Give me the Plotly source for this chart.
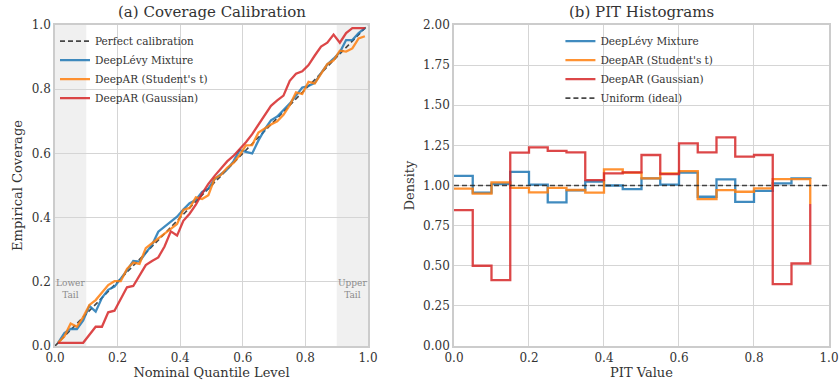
import plotly.graph_objects as go

# ---------------- data ----------------
quantile_levels = [round(0.01 + 0.02 * i, 2) for i in range(50)]

cov_levy = [0.01, 0.04, 0.053, 0.053, 0.08, 0.125, 0.107, 0.15, 0.175, 0.185,
            0.21, 0.235, 0.265, 0.263, 0.29, 0.315, 0.356, 0.372, 0.385, 0.403,
            0.425, 0.445, 0.455, 0.48, 0.49, 0.52, 0.535, 0.55, 0.575, 0.61,
            0.605, 0.60, 0.64, 0.675, 0.703, 0.715, 0.735, 0.755, 0.78, 0.805,
            0.81, 0.82, 0.85, 0.877, 0.895, 0.915, 0.953, 0.953, 0.975, 0.99]

cov_student = [0.01, 0.03, 0.07, 0.06, 0.09, 0.128, 0.143, 0.168, 0.19, 0.202,
               0.202, 0.24, 0.26, 0.256, 0.305, 0.32, 0.334, 0.35, 0.365, 0.38,
               0.424, 0.43, 0.463, 0.458, 0.47, 0.522, 0.533, 0.555, 0.57, 0.595,
               0.625, 0.626, 0.665, 0.678, 0.69, 0.70, 0.72, 0.75, 0.79, 0.785,
               0.823, 0.818, 0.85, 0.878, 0.89, 0.92, 0.917, 0.927, 0.958, 0.965]

cov_gauss = [0.01, 0.01, 0.01, 0.01, 0.01, 0.035, 0.06, 0.06, 0.105, 0.11,
             0.145, 0.183, 0.187, 0.22, 0.252, 0.265, 0.276, 0.31, 0.357, 0.344,
             0.39, 0.412, 0.44, 0.475, 0.505, 0.53, 0.553, 0.575, 0.592, 0.613,
             0.635, 0.66, 0.69, 0.722, 0.748, 0.765, 0.78, 0.826, 0.848, 0.856,
             0.875, 0.905, 0.933, 0.945, 0.97, 0.945, 0.975, 0.99, 0.99, 0.99]

pit_edges = [round(0.05 * i, 2) for i in range(20)]

pit_levy = [1.06, 0.955, 1.01, 1.085, 1.005, 0.895, 0.97, 1.025, 1.0, 0.977,
            1.044, 1.006, 1.08, 0.93, 1.038, 0.898, 0.967, 1.013, 1.044, 1.04]

pit_student = [0.98, 0.95, 1.02, 0.985, 0.957, 0.985, 0.972, 0.955, 1.10, 1.08,
               1.044, 1.075, 1.09, 0.915, 0.971, 0.961, 0.982, 1.04, 1.04, 0.885]

pit_gauss = [0.847, 0.50, 0.41, 1.205, 1.237, 1.216, 1.206, 1.034, 1.075, 1.082,
             1.19, 1.071, 1.263, 1.206, 1.30, 1.18, 1.19, 0.385, 0.514, 0.884]

calib_line = [0.0, 1.0]
uniform_x = [0.0, 1.0]
uniform_y = [1.0, 1.0]

x_ticks = [0.0, 0.2, 0.4, 0.6, 0.8, 1.0]
cov_ticks = [0.0, 0.2, 0.4, 0.6, 0.8, 1.0]
pit_y_ticks = [0.0, 0.25, 0.5, 0.75, 1.0, 1.25, 1.5, 1.75, 2.0]

names = ["DeepLévy Mixture", "DeepAR (Student's t)", "DeepAR (Gaussian)"]

# ---------------- style ----------------
FONT = "DejaVu Serif"
C_BLUE = "rgba(31,119,180,0.85)"
C_ORANGE = "rgba(255,127,14,0.85)"
C_RED = "rgba(214,39,40,0.85)"
C_DASH = "rgba(40,40,40,0.85)"
LW = 2.3
GRID = "#d5d5d5"
SPINE = "#cccccc"
TXT = "#333333"

fig = go.Figure()

# ---- left panel ----
fig.add_trace(go.Scatter(x=calib_line, y=calib_line, mode="lines", name="Perfect calibration",
                         line=dict(color=C_DASH, width=1.6, dash="5px,3px"),
                         xaxis="x", yaxis="y", legend="legend"))
for ys, c, n in [(cov_levy, C_BLUE, names[0]), (cov_student, C_ORANGE, names[1]),
                 (cov_gauss, C_RED, names[2])]:
    fig.add_trace(go.Scatter(x=quantile_levels, y=ys, mode="lines", name=n,
                             line=dict(color=c, width=LW),
                             xaxis="x", yaxis="y", legend="legend"))

# ---- right panel ----
for ys, c, n in [(pit_levy, C_BLUE, names[0]), (pit_student, C_ORANGE, names[1]),
                 (pit_gauss, C_RED, names[2])]:
    fig.add_trace(go.Scatter(x=pit_edges, y=ys, mode="lines", name=n,
                             line=dict(color=c, width=LW, shape="hv"),
                             xaxis="x2", yaxis="y2", legend="legend2"))
fig.add_trace(go.Scatter(x=uniform_x, y=uniform_y, mode="lines", name="Uniform (ideal)",
                         line=dict(color=C_DASH, width=1.6, dash="5px,3px"),
                         xaxis="x2", yaxis="y2", legend="legend2"))

# tail shading
for x0, x1 in [(0.0, 0.1), (0.9, 1.0)]:
    fig.add_shape(type="rect", xref="x", yref="y", x0=x0, x1=x1, y0=0, y1=1,
                  fillcolor="#f0f0f0", line=dict(width=0), layer="below")

axis_common = dict(showgrid=True, gridcolor=GRID, gridwidth=1, showline=True,
                   linecolor=SPINE, linewidth=1.6, mirror=True, zeroline=False,
                   automargin=False, ticks="",
                   tickfont=dict(family=FONT, size=12, color=TXT),
                   title_font=dict(family=FONT, size=13, color=TXT))

fig.update_layout(
    template="none",
    width=839, height=385,
    margin=dict(l=55, r=10, t=25, b=39),
    paper_bgcolor="white", plot_bgcolor="white",
    font=dict(family=FONT, color=TXT),
    xaxis=dict(domain=[0.0, 0.4044], range=[0, 1], tickvals=x_ticks,
               ticktext=[f"{v:.1f}" for v in x_ticks],
               title=dict(text="Nominal Quantile Level", standoff=3), anchor="y", **axis_common),
    yaxis=dict(domain=[0, 1], range=[0, 1], tickvals=cov_ticks,
               ticktext=[f"{v:.1f}" for v in cov_ticks],
               title=dict(text="Empirical Coverage", standoff=6), anchor="x", **axis_common),
    xaxis2=dict(domain=[0.5155, 1.0], range=[0, 1], tickvals=x_ticks,
                ticktext=[f"{v:.1f}" for v in x_ticks],
                title=dict(text="PIT Value", standoff=3), anchor="y2", **axis_common),
    yaxis2=dict(domain=[0, 1], range=[0, 2], tickvals=pit_y_ticks,
                ticktext=[f"{v:.2f}" for v in pit_y_ticks],
                title=dict(text="Density", standoff=6), anchor="x2", **axis_common),
    legend=dict(x=0.0, y=0.995, xanchor="left", yanchor="top", bgcolor="rgba(0,0,0,0)",
                font=dict(family=FONT, size=10.5, color=TXT), tracegroupgap=0),
    legend2=dict(x=0.653, y=0.995, xanchor="left", yanchor="top", bgcolor="rgba(0,0,0,0)",
                 font=dict(family=FONT, size=10.5, color=TXT), tracegroupgap=0),
    annotations=[
        dict(text="(a) Coverage Calibration", x=0.2022, y=1.0, xref="paper", yref="paper",
             xanchor="center", yanchor="middle", yshift=13, showarrow=False,
             font=dict(family=FONT, size=15, color=TXT)),
        dict(text="(b) PIT Histograms", x=0.7578, y=1.0, xref="paper", yref="paper",
             xanchor="center", yanchor="middle", yshift=13, showarrow=False,
             font=dict(family=FONT, size=15, color=TXT)),
        dict(text="Lower<br>Tail", x=0.05, y=0.177, xref="x", yref="y", showarrow=False,
             xanchor="center", yanchor="middle",
             font=dict(family=FONT, size=9, color="#8a8a8a")),
        dict(text="Upper<br>Tail", x=0.95, y=0.177, xref="x", yref="y", showarrow=False,
             xanchor="center", yanchor="middle",
             font=dict(family=FONT, size=9, color="#8a8a8a")),
    ],
)

fig.write_html("out.html", config={"displayModeBar": False},
               post_script="document.body.style.margin='0px';")
